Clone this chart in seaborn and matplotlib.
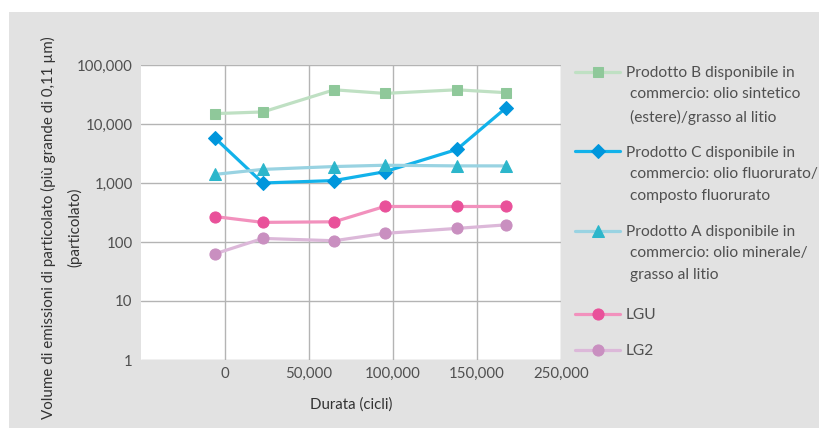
import matplotlib
matplotlib.use("Agg")
import matplotlib.pyplot as plt
import seaborn as sns
from matplotlib.patches import Rectangle
from matplotlib.ticker import FixedLocator, NullLocator

# data
durata = [-6000, 22500, 65000, 95000, 138000, 167000]
prodotto_b = [15000, 16000, 38000, 33000, 38000, 34000]
prodotto_c = [5800, 1000, 1100, 1550, 3700, 18500]
prodotto_a = [1400, 1700, 1900, 2000, 1950, 1950]
lgu = [270, 215, 220, 400, 400, 400]
lg2 = [63, 115, 105, 140, 170, 195]

labels = [
    "Prodotto B disponibile in\n commercio: olio sintetico\n (estere)/grasso al litio",
    "Prodotto C disponibile in\n commercio: olio fluorurato/\n composto fluorurato",
    "Prodotto A disponibile in\n commercio: olio minerale/\n grasso al litio",
    "LGU",
    "LG2",
]
x_ticks = [0, 50000, 100000, 150000, 200000]
x_tick_labels = ["0", "50,000", "100,000", "150,000", "250,000"]
y_ticks = [1, 10, 100, 1000, 10000, 100000]
y_tick_labels = ["1", "10", "100", "1,000", "10,000", "100,000"]

sns.set_theme(style="white")
plt.rcParams["font.family"] = ["Lato", "DejaVu Sans"]
text_col = "#505050"
fs = 11.2

fig = plt.figure(figsize=(8.19, 4.28), dpi=100)
fig.patch.set_facecolor("white")
fig.patches.append(Rectangle((9 / 819, 0), 1, (428 - 12) / 428, transform=fig.transFigure,
                             facecolor="#e2e2e2", edgecolor="none", zorder=-10))
ax = fig.add_axes([141 / 819, 68 / 428, 420 / 819, 295 / 428])
ax.set_facecolor("white")

series = [
    (prodotto_b, "#bfe0c3", "#8fc89a", "s", 7.5),
    (prodotto_c, "#12b2ea", "#0096dc", "D", 7.5),
    (prodotto_a, "#99d3e2", "#2cb6cb", "^", 8.5),
    (lgu, "#f291bd", "#e9519a", "o", 8),
    (lg2, "#dcb8d9", "#c98fc0", "o", 8),
]
handles = []
for (vals, lc, mc, mk, ms), lab in zip(series, labels):
    sns.lineplot(x=durata, y=vals, ax=ax, color=lc, linewidth=2.3, marker=mk,
                 markersize=ms, markerfacecolor=mc, markeredgecolor=mc, label=lab)
    handles.append(ax.lines[-1])

ax.set_yscale("log")
ax.set_ylim(1, 100000)
ax.set_xlim(-50000, 200000)
ax.yaxis.set_major_locator(FixedLocator(y_ticks))
ax.yaxis.set_minor_locator(NullLocator())
ax.set_yticklabels(y_tick_labels)
ax.set_xticks(x_ticks)
ax.set_xticklabels(x_tick_labels)
ax.grid(True, which="major", color="#b4b4b4", linewidth=1)
for s in ax.spines.values():
    s.set_visible(False)
ax.tick_params(axis="both", length=0, labelsize=10.8, colors=text_col)
ax.tick_params(axis="x", pad=5)
ax.tick_params(axis="y", pad=6)

ax.set_xlabel("Durata (cicli)", fontsize=10.8, color="#333333", labelpad=12)
ax.set_ylabel("Volume di emissioni di particolato (più grande di 0,11 µm)\n(particolato)",
              fontsize=10.9, color="#333333", linespacing=1.9)
ax.yaxis.set_label_coords(-0.14, 0.45)

# legend: first line of each label in the legend, the rest hung below it
first_lines = [lab.split("\n")[0] for lab in labels]
rest_lines = ["\n".join(lab.split("\n")[1:]) for lab in labels]

leg1 = ax.legend(handles=handles[:3], labels=first_lines[:3], loc="upper left",
                 bbox_to_anchor=(575 / 819, 1 - 66.5 / 428), bbox_transform=fig.transFigure,
                 frameon=False, fontsize=fs, handlelength=2.9, handletextpad=0.35,
                 labelspacing=4.2, borderaxespad=0, borderpad=0)
for t in leg1.get_texts():
    t.set_color(text_col)
ax.add_artist(leg1)

leg2 = ax.legend(handles=handles[3:], labels=first_lines[3:], loc="upper left",
                 bbox_to_anchor=(575 / 819, 1 - 308 / 428), bbox_transform=fig.transFigure,
                 frameon=False, fontsize=fs, handlelength=2.9, handletextpad=0.35,
                 labelspacing=1.42, borderaxespad=0, borderpad=0)
for t in leg2.get_texts():
    t.set_color(text_col)

for t, rest in zip(leg1.get_texts(), rest_lines[:3]):
    ax.annotate(rest, xy=(0, 0), xycoords=t, xytext=(0, -7), textcoords="offset pixels",
                ha="left", va="top", fontsize=fs, color=text_col, linespacing=1.74,
                zorder=6, annotation_clip=False)

fig.canvas.draw()
fig.savefig("out.png", dpi=100)
